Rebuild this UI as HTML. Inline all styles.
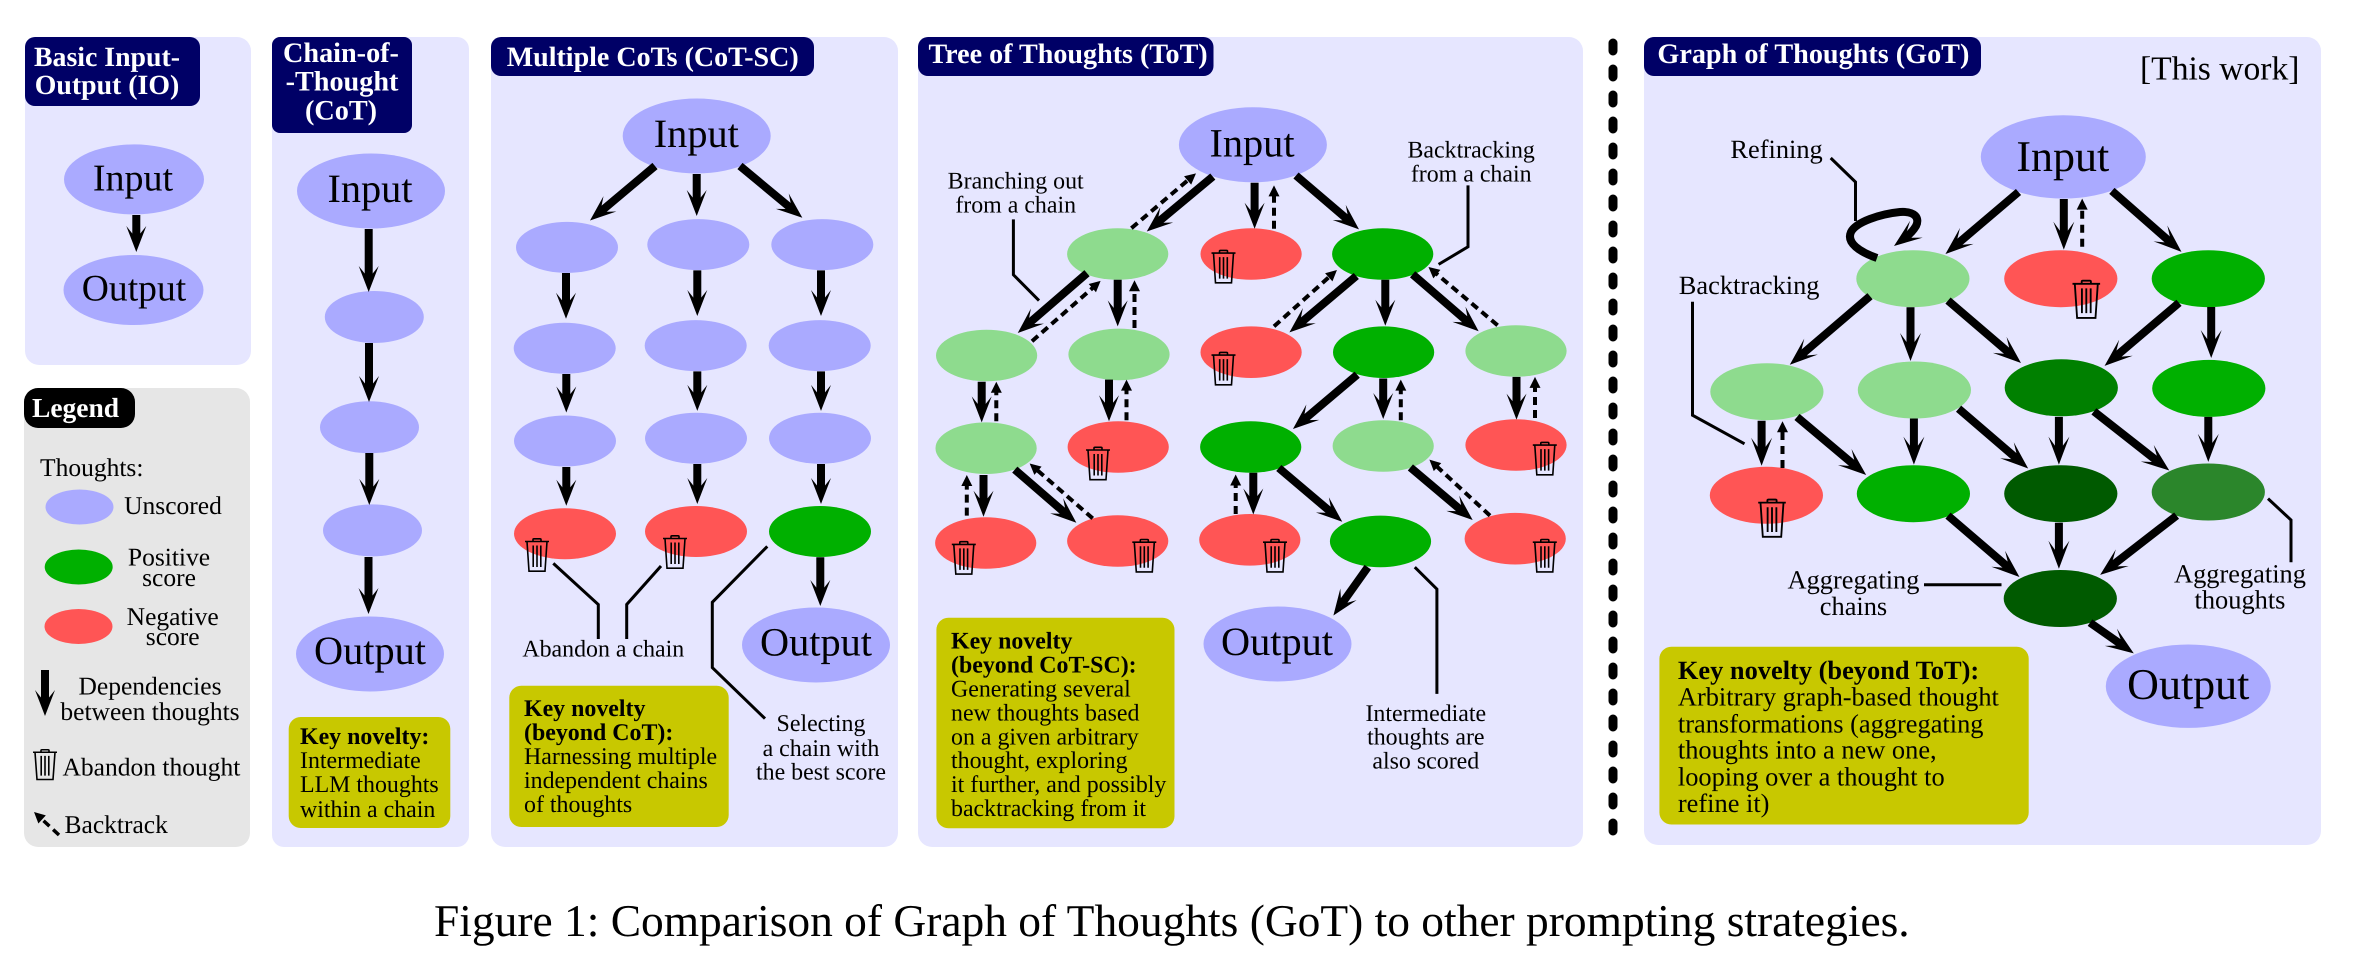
<!DOCTYPE html>
<html lang="en">
<head>
<meta charset="utf-8">
<title>Figure 1: Comparison of Graph of Thoughts</title>
<style>
html,body{margin:0;padding:0;background:#fff;width:2363px;height:964px;overflow:hidden}
svg{display:block;font-family:"Liberation Serif",serif;text-rendering:geometricPrecision}
.m{text-anchor:middle}
.b{font-weight:bold}
.w{fill:#fff;font-weight:bold}
.big{font-size:40.3px}
.gb{font-size:44px}
.s{font-size:23.9px}
.l{font-size:25.5px}
.g{font-size:26.4px}
.u{fill:#aaaaff}.lg{fill:#8edb8e}.gr{fill:#00b000}.r{fill:#ff5555}.d1{fill:#008000}.d2{fill:#005a00}.d3{fill:#2b862b}
.lead{fill:none;stroke:#000;stroke-width:3}
</style>
</head>
<body>
<svg width="2363" height="964" viewBox="0 0 2363 964" xmlns="http://www.w3.org/2000/svg">
<defs>
<marker id="h" markerUnits="userSpaceOnUse" markerWidth="40" markerHeight="30" refX="0" refY="0" orient="auto" overflow="visible"><path d="M15,0L-11,-10L-3.5,-4L-3.5,4L-11,10Z" fill="#000" stroke="none"/></marker>
<marker id="k" markerUnits="userSpaceOnUse" markerWidth="40" markerHeight="30" refX="0" refY="0" orient="auto" overflow="visible"><path d="M15,0L-13,-10.5L-4,-4L-4,4L-13,10.5Z" fill="#000" stroke="none"/></marker>
<marker id="d" markerUnits="userSpaceOnUse" markerWidth="20" markerHeight="20" refX="0" refY="0" orient="auto" overflow="visible"><path d="M8,0L-3,-5.5L-3,5.5Z" fill="#000" stroke="none"/></marker>
<g id="t" fill="none" stroke="#000" stroke-width="1.6">
<path d="M8,3V1.6Q8,.8 9,.8H15Q16,.8 16,1.6V3"/>
<path d="M0,3.5H24"/>
<path d="M2,3.5L4,33.2H20L22,3.5"/>
<path d="M8.2,7.5V29M12,7.5V29M15.8,7.5V29"/>
</g>
</defs>

<!-- panels -->
<rect x="25" y="37" width="226" height="328" rx="14" fill="#e6e6ff"/>
<rect x="24" y="388" width="226" height="459" rx="14" fill="#e6e6e6"/>
<rect x="272" y="37" width="197" height="810" rx="12" fill="#e6e6ff"/>
<rect x="491" y="37" width="407" height="810" rx="14" fill="#e6e6ff"/>
<rect x="918" y="37" width="665" height="810" rx="14" fill="#e6e6ff"/>
<rect x="1644" y="37" width="677" height="808" rx="14" fill="#e6e6ff"/>

<!-- headers -->
<rect x="25" y="37" width="175" height="69" rx="10" fill="#000066"/>
<text class="w" font-size="27.8" x="107" y="66" text-anchor="middle">Basic Input-</text>
<text class="w" font-size="27.8" x="107" y="94" text-anchor="middle">Output (IO)</text>
<rect x="24" y="388" width="111" height="40" rx="14" fill="#000"/>
<text class="w" font-size="27.5" x="32" y="417">Legend</text>
<rect x="272" y="37" width="140" height="96" rx="8" fill="#000066"/>
<text class="w" font-size="28.2" x="341" y="62" text-anchor="middle">Chain-of-</text>
<text class="w" font-size="28.2" x="342" y="90.5" text-anchor="middle">-Thought</text>
<text class="w" font-size="28.2" x="341" y="119.5" text-anchor="middle">(CoT)</text>
<rect x="491" y="37" width="323" height="39" rx="10" fill="#000066"/>
<text class="w" font-size="28" x="506.7" y="66">Multiple CoTs (CoT-SC)</text>
<rect x="918" y="37" width="295.5" height="39" rx="10" fill="#000066"/>
<text class="w" font-size="28.1" x="928.5" y="63">Tree of Thoughts (ToT)</text>
<rect x="1644" y="37" width="337" height="39" rx="10" fill="#000066"/>
<text class="w" font-size="28.2" x="1657.4" y="63">Graph of Thoughts (GoT)</text>
<text font-size="33.6" x="2140" y="79.5">[This work]</text>

<!-- IO -->
<ellipse class="u" cx="134" cy="179.4" rx="70" ry="35"/>
<ellipse class="u" cx="133.5" cy="290" rx="70" ry="35"/>
<text class="m" font-size="38" x="133" y="190.5">Input</text>
<text class="m" font-size="37.6" x="134" y="300.6">Output</text>
<path d="M136.3 215V237" stroke="#000" stroke-width="8" fill="none" marker-end="url(#h)"/>

<!-- Legend -->
<text class="l" x="40" y="476">Thoughts:</text>
<ellipse class="u" cx="79.5" cy="507" rx="34" ry="17.5"/>
<ellipse class="gr" cx="78.7" cy="567" rx="34" ry="17.5"/>
<ellipse class="r" cx="78.5" cy="626.5" rx="34" ry="17.5"/>
<text class="l m" x="173" y="514">Unscored</text>
<text class="l m" x="169" y="565.5">Positive</text>
<text class="l m" x="169" y="586">score</text>
<text class="l m" x="172.7" y="625">Negative</text>
<text class="l m" x="172.7" y="645">score</text>
<path d="M45 670V701" stroke="#000" stroke-width="8" fill="none" marker-end="url(#h)"/>
<text class="l m" x="150" y="694.5">Dependencies</text>
<text class="l m" x="150" y="720">between thoughts</text>
<use href="#t" transform="translate(33,749) scale(1,.92)"/>
<text class="l" x="62.5" y="775.5">Abandon thought</text>
<path d="M59 835L39.9 817.4" stroke="#000" stroke-width="3.5" stroke-dasharray="8 5" fill="none" marker-end="url(#d)"/>
<text class="l" x="64.5" y="833">Backtrack</text>

<!-- CoT -->
<ellipse class="u" cx="371" cy="191" rx="74" ry="37.5"/>
<ellipse class="u" cx="374.3" cy="317" rx="49.5" ry="26"/>
<ellipse class="u" cx="369.5" cy="427.3" rx="49.5" ry="26"/>
<ellipse class="u" cx="372.5" cy="530.4" rx="49.5" ry="26"/>
<ellipse class="u" cx="370" cy="654" rx="74" ry="37.5"/>
<text class="big m" x="370" y="202">Input</text>
<text class="big m" x="370" y="664">Output</text>
<g stroke="#000" stroke-width="8" fill="none" marker-end="url(#h)">
<path d="M368.7 229V277"/><path d="M369 343V387"/><path d="M369.3 453V490"/><path d="M368.5 557V599"/>
</g>
<rect x="288.7" y="717" width="161.6" height="111" rx="12" fill="#c8c800"/>
<text class="s b" x="300" y="744">Key novelty:</text>
<text class="s" x="300" y="768">Intermediate</text>
<text class="s" x="300" y="792">LLM thoughts</text>
<text class="s" x="300" y="817">within a chain</text>

<!-- CoT-SC -->
<ellipse class="u" cx="696.7" cy="136" rx="74" ry="37.5"/>
<text class="big m" x="696.3" y="147">Input</text>
<g class="u">
<ellipse cx="567" cy="247.4" rx="51" ry="25.5"/><ellipse cx="564.7" cy="348.3" rx="51" ry="25.5"/><ellipse cx="565" cy="441" rx="51" ry="25.5"/>
<ellipse cx="698.3" cy="244.6" rx="51" ry="25.5"/><ellipse cx="695.7" cy="345.6" rx="51" ry="25.5"/><ellipse cx="696" cy="438.3" rx="51" ry="25.5"/>
<ellipse cx="822.3" cy="244.6" rx="51" ry="25.5"/><ellipse cx="819.7" cy="345.6" rx="51" ry="25.5"/><ellipse cx="820" cy="438.3" rx="51" ry="25.5"/>
</g>
<ellipse class="r" cx="565" cy="533.7" rx="51" ry="25.5"/>
<ellipse class="r" cx="696" cy="531.5" rx="51" ry="25.5"/>
<ellipse class="gr" cx="820" cy="531.5" rx="51" ry="25.5"/>
<ellipse class="u" cx="816" cy="645" rx="74" ry="37.5"/>
<text class="big m" x="816" y="655.5">Output</text>
<g stroke="#000" stroke-width="8" fill="none" marker-end="url(#h)">
<path d="M655 166L601.5 210.9"/><path d="M696.7 174V201"/><path d="M740 166L790.8 208.2"/>
<path d="M566 273V303.7"/><path d="M566.3 374V397.5"/><path d="M566.3 467V490.8"/>
<path d="M697.3 270.4V301"/><path d="M697.3 371.4V395.9"/><path d="M697.3 464V489"/>
<path d="M821 270.4V301"/><path d="M821 371.4V395.9"/><path d="M821 464V489"/>
<path d="M820.3 557.3V591"/>
</g>
<use href="#t" x="525" y="538"/>
<use href="#t" x="663" y="535"/>
<path class="lead" d="M553.3 563.4L598.3 604.5V639"/>
<path class="lead" d="M661 566L626.7 604.5V639"/>
<path class="lead" d="M767.3 546.4L712.3 602.3V667.6L765 718.6"/>
<text class="s m" x="603.3" y="656.6">Abandon a chain</text>
<text class="s m" x="821" y="731">Selecting</text>
<text class="s m" x="821" y="756">a chain with</text>
<text class="s m" x="821" y="779.5">the best score</text>
<rect x="509.3" y="685.7" width="219.4" height="141.3" rx="12" fill="#c8c800"/>
<text class="s b" x="524" y="716">Key novelty</text>
<text class="s b" x="524" y="740">(beyond CoT):</text>
<text class="s" x="524" y="764">Harnessing multiple</text>
<text class="s" x="524" y="788">independent chains</text>
<text class="s" x="524" y="812">of thoughts</text>

<!-- ToT -->
<ellipse class="u" cx="1252.9" cy="144.8" rx="74" ry="37.5"/>
<text class="big m" x="1252" y="156.3">Input</text>
<ellipse class="lg" cx="1117.7" cy="254" rx="50.6" ry="25.8"/>
<ellipse class="r" cx="1251.1" cy="254" rx="50.6" ry="25.8"/>
<ellipse class="gr" cx="1382.7" cy="254" rx="50.6" ry="25.8"/>
<ellipse class="lg" cx="986.6" cy="355.5" rx="50.6" ry="25.8"/>
<ellipse class="lg" cx="1119" cy="354.4" rx="50.6" ry="25.8"/>
<ellipse class="r" cx="1251.1" cy="352.2" rx="50.6" ry="25.8"/>
<ellipse class="gr" cx="1383.6" cy="352.2" rx="50.6" ry="25.8"/>
<ellipse class="lg" cx="1516" cy="351" rx="50.6" ry="25.8"/>
<ellipse class="lg" cx="986.1" cy="448.2" rx="50.6" ry="25.8"/>
<ellipse class="r" cx="1118.2" cy="447" rx="50.6" ry="25.8"/>
<ellipse class="gr" cx="1250.7" cy="447" rx="50.6" ry="25.8"/>
<ellipse class="lg" cx="1383.2" cy="446" rx="50.6" ry="25.8"/>
<ellipse class="r" cx="1516" cy="445" rx="50.6" ry="25.8"/>
<ellipse class="r" cx="985.7" cy="543" rx="50.6" ry="25.8"/>
<ellipse class="r" cx="1117.7" cy="541" rx="50.6" ry="25.8"/>
<ellipse class="r" cx="1249.8" cy="539.8" rx="50.6" ry="25.8"/>
<ellipse class="gr" cx="1380.5" cy="541.4" rx="50.6" ry="25.8"/>
<ellipse class="r" cx="1515.2" cy="538.7" rx="50.6" ry="25.8"/>
<ellipse class="u" cx="1277.5" cy="644" rx="74" ry="37.5"/>
<text class="big m" x="1277" y="655">Output</text>
<g stroke="#000" stroke-width="8" fill="none" marker-end="url(#h)">
<path d="M1212.8 176.6L1158.3 221.9"/>
<path d="M1254.6 182.7V213.7"/>
<path d="M1296 175.5L1347.6 219.6"/>
<path d="M1087 273.2L1029.1 323.2"/>
<path d="M1117.7 279.8V311.4"/>
<path d="M981.7 381.8V407.4"/>
<path d="M1109 379.6V406.3"/>
<path d="M983.5 475V501.7"/>
<path d="M1014.8 469.6L1065 513"/>
<path d="M1356.3 276L1300.9 322.7"/>
<path d="M1385.3 279.8V310.8"/>
<path d="M1412.6 274.3L1467.3 321.5"/>
<path d="M1357.2 374.7L1304.4 419.3"/>
<path d="M1383.2 378.5V404"/>
<path d="M1516.5 376.9V404.6"/>
<path d="M1253.3 472.8V499.5"/>
<path d="M1278.8 468L1330.8 512"/>
<path d="M1410.4 467.4L1461.2 510.3"/>
<path d="M1367.8 567.2L1342.1 603.3"/>
</g>
<g stroke="#000" stroke-width="4" stroke-dasharray="8 5" fill="none" marker-end="url(#d)">
<path d="M1131.4 228.2L1189.9 178.5"/>
<path d="M1274 228.7V193.4"/>
<path d="M1032 341.2L1094.6 286.2"/>
<path d="M1134.5 328V288.3"/>
<path d="M996.3 421.3V389.8"/>
<path d="M1126.5 420.2V387.6"/>
<path d="M966.8 515.6V483"/>
<path d="M1092.7 518.4L1035.7 468.8"/>
<path d="M1274 326.4L1331 275.3"/>
<path d="M1497.6 325.3L1434.6 272.2"/>
<path d="M1400.8 420.2V387.6"/>
<path d="M1535 418V384.9"/>
<path d="M1235.7 514V482.5"/>
<path d="M1490 515.6L1435.3 465.1"/>
</g>
<use href="#t" x="1211.5" y="249.6"/>
<use href="#t" x="1211.5" y="351.6"/>
<use href="#t" x="1086" y="446.5"/>
<use href="#t" x="1532.8" y="441.6"/>
<use href="#t" x="951.8" y="540.9"/>
<use href="#t" x="1132.3" y="538.7"/>
<use href="#t" x="1263" y="538.7"/>
<use href="#t" x="1532.8" y="538.7"/>
<path class="lead" d="M1013.4 219.4V274.8L1039 300.6"/>
<path class="lead" d="M1468 185.4V246.8L1438.6 264.4"/>
<path class="lead" d="M1414.8 567.2L1436.9 589.1V693.9"/>
<text class="s m" x="1015.7" y="188.7">Branching out</text>
<text class="s m" x="1015.7" y="212.3">from a chain</text>
<text class="s m" x="1471.2" y="157.4">Backtracking</text>
<text class="s m" x="1471.2" y="181.6">from a chain</text>
<text class="s m" x="1425.8" y="720.8">Intermediate</text>
<text class="s m" x="1425.8" y="744.4">thoughts are</text>
<text class="s m" x="1425.8" y="768.5">also scored</text>
<rect x="936.4" y="617.7" width="238.1" height="210.6" rx="12" fill="#c8c800"/>
<text class="s b" x="951" y="648.4">Key novelty</text>
<text class="s b" x="951" y="672.5">(beyond CoT-SC):</text>
<text class="s" x="951" y="696.6">Generating several</text>
<text class="s" x="951" y="720.3">new thoughts based</text>
<text class="s" x="951" y="744.4">on a given arbitrary</text>
<text class="s" x="951" y="768">thought, exploring</text>
<text class="s" x="951" y="792">it further, and possibly</text>
<text class="s" x="951" y="816.2">backtracking from it</text>

<!-- divider -->
<path d="M1613 43V836" stroke="#000" stroke-width="9" stroke-linecap="round" stroke-dasharray="8 18" fill="none"/>

<!-- GoT -->
<ellipse class="u" cx="2063.3" cy="156.9" rx="82.5" ry="41.7"/>
<text class="gb m" x="2062.8" y="171">Input</text>
<ellipse class="lg" cx="1912.9" cy="278.7" rx="56.6" ry="28.5"/>
<ellipse class="r" cx="2060.8" cy="278.7" rx="56.6" ry="28.5"/>
<ellipse class="gr" cx="2208.3" cy="278.7" rx="56.6" ry="28.5"/>
<ellipse class="lg" cx="1766.9" cy="391.7" rx="56.6" ry="28.5"/>
<ellipse class="lg" cx="1914.4" cy="390" rx="56.6" ry="28.5"/>
<ellipse class="d1" cx="2061.3" cy="387.8" rx="56.6" ry="28.5"/>
<ellipse class="gr" cx="2208.8" cy="388.4" rx="56.6" ry="28.5"/>
<ellipse class="r" cx="1766.4" cy="495.3" rx="56.6" ry="28.5"/>
<ellipse class="gr" cx="1913.4" cy="493.7" rx="56.6" ry="28.5"/>
<ellipse class="d2" cx="2060.8" cy="493.7" rx="56.6" ry="28.5"/>
<ellipse class="d3" cx="2208.3" cy="492" rx="56.6" ry="28.5"/>
<ellipse class="d2" cx="2060.3" cy="598.5" rx="56.6" ry="28.5"/>
<ellipse class="u" cx="2188.3" cy="686.2" rx="82.5" ry="41.7"/>
<text class="gb m" x="2188.3" y="698.8">Output</text>
<g stroke="#000" stroke-width="8" fill="none" marker-end="url(#k)">
<path d="M2018.5 192L1956.9 244.3"/>
<path d="M2063.8 199V234.6"/>
<path d="M2111.9 190.9L2170.2 242"/>
<path d="M1870 296.2L1801.2 355"/>
<path d="M1910.5 307.2V346"/>
<path d="M1948 300.6L2009.6 353.3"/>
<path d="M2179 302.8L2116 356.2"/>
<path d="M2211.2 307V343"/>
<path d="M1761.6 420.7V450.7"/>
<path d="M1797 416.9L1854.7 465.4"/>
<path d="M1913.9 418.5V449.6"/>
<path d="M1958.6 408.7L2016.8 458.7"/>
<path d="M2058.9 416.9V449.6"/>
<path d="M2093.9 411.4L2157.5 461.3"/>
<path d="M2208.3 416.9V446.9"/>
<path d="M1948 515.6L2008.1 567.2"/>
<path d="M2058.9 522.8V553.8"/>
<path d="M2176.6 515.6L2112 565.7"/>
<path d="M2090 622.6L2121.5 644.7"/>
<path d="M1877 258C1860 252 1846 243 1851 232C1856 222 1880 214 1900 212C1915 211 1920 218 1916 226C1913 231 1910 234 1906 237"/>
</g>
<g stroke="#000" stroke-width="4" stroke-dasharray="8 6" fill="none" marker-end="url(#d)">
<path d="M2082.2 246.8V206.6"/>
<path d="M1782.5 468V429.3"/>
</g>
<use href="#t" transform="translate(2072.5,279.8) scale(1.15)"/>
<use href="#t" transform="translate(1758.2,498.6) scale(1.15)"/>
<path class="lead" d="M1830.7 158L1855.5 182V221"/>
<path class="lead" d="M1692.5 301.7V415.2L1744.5 443.8"/>
<path class="lead" d="M1924 584.8H2001.5"/>
<path class="lead" d="M2268 498.6L2291 520V562.3"/>
<text class="g" x="1730.4" y="158">Refining</text>
<text class="g" x="1678.8" y="294">Backtracking</text>
<text class="g m" x="1853.5" y="588.6">Aggregating</text>
<text class="g m" x="1853.5" y="615">chains</text>
<text class="g m" x="2240" y="582.5">Aggregating</text>
<text class="g m" x="2240" y="608.3">thoughts</text>
<rect x="1659.4" y="646.7" width="369.3" height="177.8" rx="12" fill="#c8c800"/>
<text class="g b" x="1677.9" y="679">Key novelty (beyond ToT):</text>
<text class="g" x="1677.9" y="705.4">Arbitrary graph-based thought</text>
<text class="g" x="1677.9" y="732.4">transformations (aggregating</text>
<text class="g" x="1677.9" y="758.6">thoughts into a new one,</text>
<text class="g" x="1677.9" y="785.5">looping over a thought to</text>
<text class="g" x="1677.9" y="811.8">refine it)</text>

<!-- caption -->
<text font-size="45.45" x="434" y="936">Figure 1: Comparison of Graph of Thoughts (GoT) to other prompting strategies.</text>
</svg>
</body>
</html>
